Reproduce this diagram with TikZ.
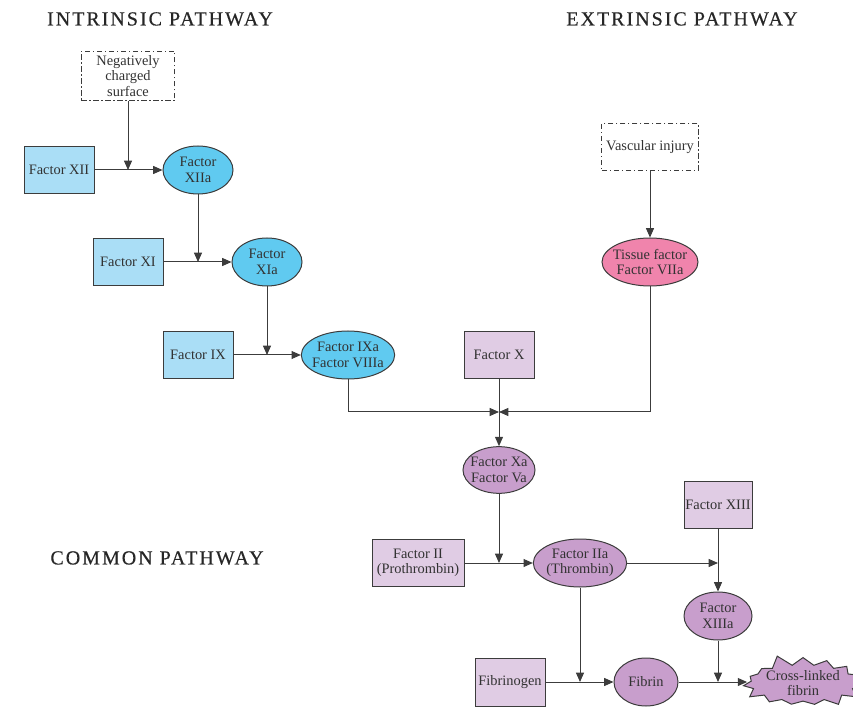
\documentclass[tikz,border=0pt]{standalone}
\usepackage{fontspec}
\setmainfont{Liberation Serif}
\usetikzlibrary{shapes.geometric, shapes.symbols, arrows.meta}
\definecolor{Ink}{RGB}{50,50,50}
\definecolor{Edge}{RGB}{60,60,60}
\definecolor{IntBox}{RGB}{170,222,246}
\definecolor{IntAct}{RGB}{96,202,240}
\definecolor{ExtAct}{RGB}{240,132,172}
\definecolor{ComBox}{RGB}{224,204,228}
\definecolor{ComAct}{RGB}{200,158,204}

\begin{document}
\begin{tikzpicture}[
    x=0.75pt, y=-0.75pt,
    font=\fontsize{10.8}{11.6}\selectfont, text=Ink,
    factor/.style={draw=Edge, line width=0.75pt, minimum width=52.5pt,
                   minimum height=35pt, inner sep=1pt, align=center},
    active/.style={ellipse, draw=Edge, line width=0.75pt, minimum width=52.5pt,
                   minimum height=36pt, inner sep=0pt, inner xsep=-4pt, align=center},
    trigger/.style={draw=Edge, line width=0.75pt, fill=white,
                    dash pattern=on 4pt off 2pt on 1pt off 2pt,
                    minimum width=70pt, minimum height=35pt, align=center},
    flow/.style={-{Triangle[length=7pt, width=6pt]}, line width=0.75pt, Edge},
    title/.style={text=black!85,
                  font=\fontsize{15}{18}\selectfont\addfontfeature{LetterSpace=10, FakeBold=0.4}},
  ]
  \useasboundingbox (0,0) rectangle (853,723);

  % headings
  \node[title] (intr) at (160,19) {INTRINSIC PATHWAY};
  \node[title] (extr) at (682,19) {EXTRINSIC PATHWAY};
  \node[title] (comm) at (157,558) {COMMON PATHWAY};

  % intrinsic
  \node[trigger] (surf) at (128,76) {Negatively\\charged\\surface};
  \node[factor, fill=IntBox] (xii) at (59,170) {Factor XII};
  \node[active, fill=IntAct] (xiia) at (198,170) {Factor\\XIIa};
  \node[factor, fill=IntBox] (xi) at (128,262) {Factor XI};
  \node[active, fill=IntAct] (xia) at (267,262) {Factor\\XIa};
  \node[factor, fill=IntBox] (ix) at (198,355) {Factor IX};
  \node[active, fill=IntAct, minimum width=70pt] (ixa) at (348,355)
    {Factor IXa\\Factor VIIIa};

  % extrinsic
  \node[trigger] (injury) at (650,147) {Vascular injury};
  \node[active, fill=ExtAct, minimum width=72pt] (tf) at (650,262)
    {Tissue factor\\Factor VIIa};

  % common
  \node[factor, fill=ComBox] (x) at (499,355) {Factor X};
  \node[active, fill=ComAct, minimum width=54pt, minimum height=35pt] (xa) at (499,470)
    {Factor Xa\\Factor Va};
  \node[factor, fill=ComBox, minimum width=69pt] (ii) at (418,563)
    {Factor II\\(Prothrombin)};
  \node[active, fill=ComAct, minimum width=70pt] (iia) at (580,563)
    {Factor IIa\\(Thrombin)};
  \node[factor, fill=ComBox, minimum width=51pt] (xiii) at (718,505) {Factor XIII};
  \node[active, fill=ComAct, minimum width=51pt] (xiiia) at (718,616) {Factor\\XIIIa};
  \node[factor, fill=ComBox, minimum height=36pt] (fbg) at (510,682) {Fibrinogen};
  \node[active, fill=ComAct, minimum width=48pt] (fib) at (646,682) {Fibrin};
  \node[starburst, starburst points=15, starburst point height=9pt, random starburst=5,
        draw=Edge, fill=ComAct, line width=0.75pt, inner sep=0pt,
        minimum width=69pt, minimum height=40pt, align=center] (xfib) at (803,683)
    {Cross-linked\\fibrin};

  \coordinate (meet) at (499,412);

  \draw[flow] (xii) -- (xiia);
  \draw[flow] (surf) -- (surf |- xii);
  \draw[flow] (xiia) -- (xiia |- xi);
  \draw[flow] (xi) -- (xia);
  \draw[flow] (xia) -- (xia |- ix);
  \draw[flow] (ix) -- (ixa);
  \draw[flow] (injury) -- (tf);
  \draw[flow] (ixa) |- (meet);
  \draw[flow] (tf) |- (meet);
  \draw[flow] (x) -- (xa);
  \draw[flow] (xa) -- (xa |- ii);
  \draw[flow] (ii) -- (iia);
  \draw[flow] (iia) -- (xiii |- iia);
  \draw[flow] (xiii) -- (xiiia);
  \draw[flow] (iia) -- (iia |- fib);
  \draw[flow] (fbg) -- (fib);
  \draw[flow] (xiiia) -- (xiiia |- fib);
  \draw[flow] (fib) -- (xfib.west |- fib);
\end{tikzpicture}
\end{document}
